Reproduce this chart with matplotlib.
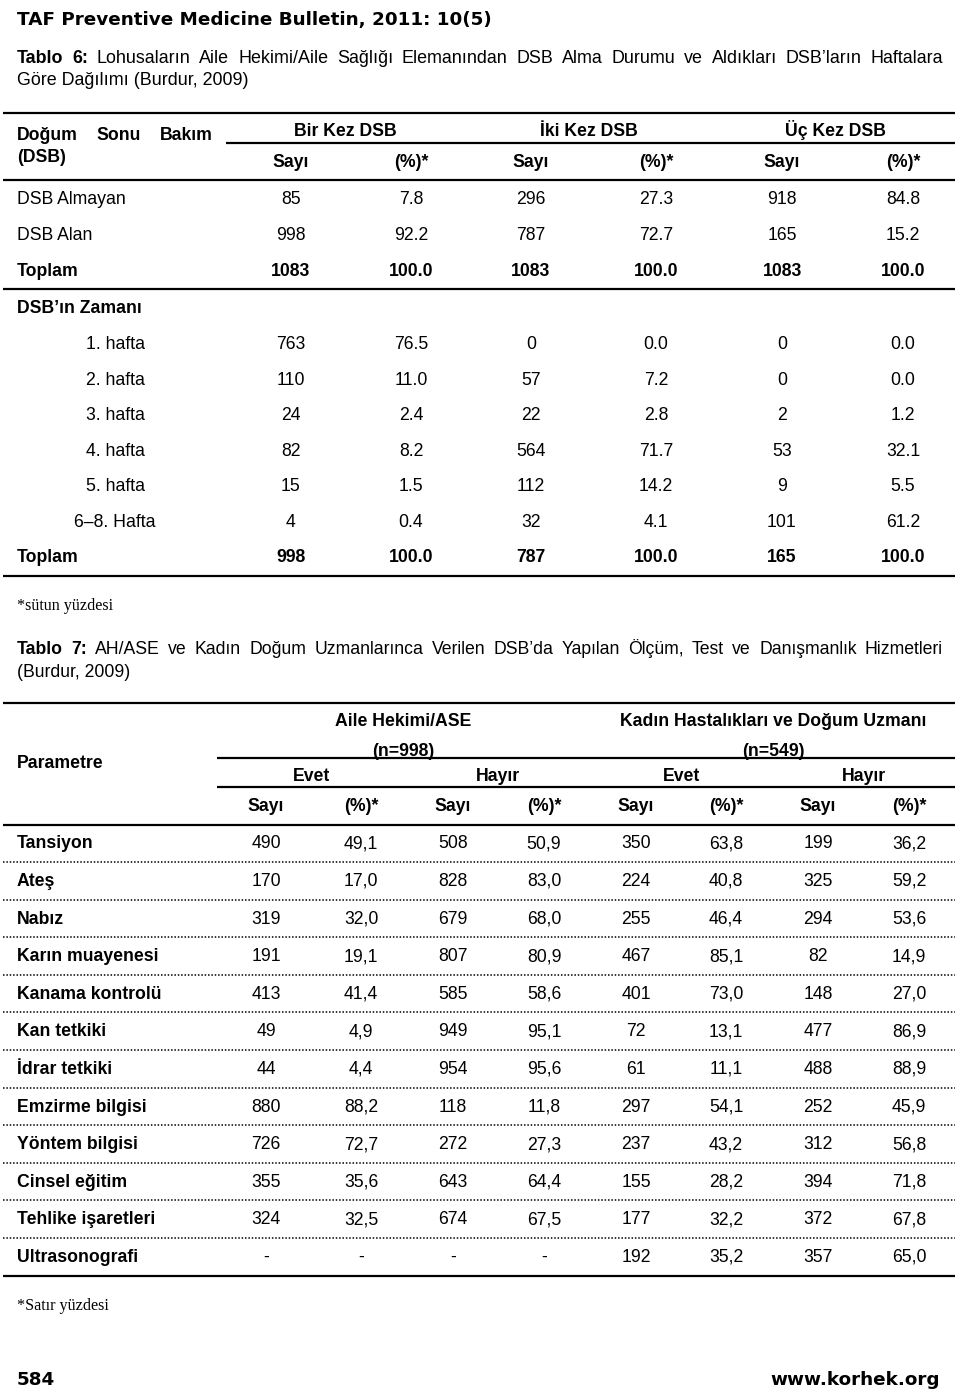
import matplotlib
matplotlib.use("Agg")
import matplotlib.pyplot as plt

# ---------------- data ----------------
journal_header = "TAF Preventive Medicine Bulletin, 2011: 10(5)"
t6_title_bold = ["Tablo", "6:"]
t6_title_line1 = "Lohusaların Aile Hekimi/Aile Sağlığı Elemanından DSB Alma Durumu ve Aldıkları DSB’ların Haftalara"
t6_title_line2 = "Göre Dağılımı (Burdur, 2009)"
t6_groups = ["Bir Kez DSB", "İki Kez DSB", "Üç Kez DSB"]
t6_sub = ["Sayı", "(%)*"]
t6_status_rows = ["DSB Almayan", "DSB Alan", "Toplam"]
t6_status_n = [[85, 296, 918], [998, 787, 165], [1083, 1083, 1083]]
t6_status_pct = [[7.8, 27.3, 84.8], [92.2, 72.7, 15.2], [100.0, 100.0, 100.0]]
t6_section = "DSB’ın Zamanı"
t6_week_rows = ["1. hafta", "2. hafta", "3. hafta", "4. hafta", "5. hafta", "6–8. Hafta", "Toplam"]
t6_week_n = [[763, 0, 0], [110, 57, 0], [24, 22, 2], [82, 564, 53], [15, 112, 9], [4, 32, 101], [998, 787, 165]]
t6_week_pct = [[76.5, 0.0, 0.0], [11.0, 7.2, 0.0], [2.4, 2.8, 1.2], [8.2, 71.7, 32.1],
               [1.5, 14.2, 5.5], [0.4, 4.1, 61.2], [100.0, 100.0, 100.0]]
t6_note = "*sütun yüzdesi"

t7_title_bold = ["Tablo", "7:"]
t7_title_line1 = "AH/ASE ve Kadın Doğum Uzmanlarınca Verilen DSB’da Yapılan Ölçüm, Test ve Danışmanlık Hizmetleri"
t7_title_line2 = "(Burdur, 2009)"
t7_groups = ["Aile Hekimi/ASE", "Kadın Hastalıkları ve Doğum Uzmanı"]
t7_group_n = ["(n=998)", "(n=549)"]
t7_answers = ["Evet", "Hayır"]
t7_sub = ["Sayı", "(%)*"]
t7_rows = ["Tansiyon", "Ateş", "Nabız", "Karın muayenesi", "Kanama kontrolü", "Kan tetkiki",
           "İdrar tetkiki", "Emzirme bilgisi", "Yöntem bilgisi", "Cinsel eğitim",
           "Tehlike işaretleri", "Ultrasonografi"]
# columns: AH evet n, AH hayir n, KD evet n, KD hayir n (and matching %)
t7_n = [[490, 508, 350, 199], [170, 828, 224, 325], [319, 679, 255, 294], [191, 807, 467, 82],
        [413, 585, 401, 148], [49, 949, 72, 477], [44, 954, 61, 488], [880, 118, 297, 252],
        [726, 272, 237, 312], [355, 643, 155, 394], [324, 674, 177, 372], [None, None, 192, 357]]
t7_pct = [[49.1, 50.9, 63.8, 36.2], [17.0, 83.0, 40.8, 59.2], [32.0, 68.0, 46.4, 53.6],
          [19.1, 80.9, 85.1, 14.9], [41.4, 58.6, 73.0, 27.0], [4.9, 95.1, 13.1, 86.9],
          [4.4, 95.6, 11.1, 88.9], [88.2, 11.8, 54.1, 45.9], [72.7, 27.3, 43.2, 56.8],
          [35.6, 64.4, 28.2, 71.8], [32.5, 67.5, 32.2, 67.8], [None, None, 35.2, 65.0]]
t7_note = "*Satır yüzdesi"
page_no = "584"
site = "www.korhek.org"

# ---------------- figure ----------------
W, H = 960, 1389
fig = plt.figure(figsize=(W / 100, H / 100), dpi=100)
ax = fig.add_axes([0, 0, 1, 1])
ax.set_xlim(0, W)
ax.set_ylim(H, 0)
ax.axis("off")
renderer = fig.canvas.get_renderer()

SANS = ["Liberation Sans", "DejaVu Sans"]
NARROW = ["Liberation Sans Narrow", "Liberation Sans", "DejaVu Sans"]
SERIF = ["Liberation Serif", "DejaVu Serif"]
HEAD = ["DejaVu Sans"]
FS = 12.7
CAP = {"Liberation Sans": 0.716, "Liberation Serif": 0.662, "DejaVu Sans": 0.729}


def txt(x, y, s, ha="center", fw="normal", fs=FS, fam=SANS):
    # y = vertical centre of capital letters; text placed on its baseline
    off = next((CAP[f] for f in fam if f in CAP), 0.72)
    yb = y + off * fs * 100 / 72 / 2
    return ax.text(x, yb, s, ha=ha, va="baseline", fontsize=fs, fontweight=fw,
                   family=fam, color="black")


def hline(y, x0, x1, lw=1.6, ls="-"):
    ax.plot([x0, x1], [y, y], color="black", lw=lw, ls=ls, solid_capstyle="butt")


def justify(pieces, x0, x1, y, fs=FS, fam=SANS):
    objs = [txt(0, y, w, ha="left", fw=fw, fs=fs, fam=fam) for w, fw in pieces]
    widths = [o.get_window_extent(renderer).width for o in objs]
    gap = (x1 - x0 - sum(widths)) / (len(objs) - 1)
    x = x0
    for o, w in zip(objs, widths):
        o.set_x(x)
        x += w + gap


def f1(v, comma=False):
    if v is None:
        return "-"
    s = f"{v:.1f}"
    return s.replace(".", ",") if comma else s


# header
txt(17, 18, journal_header, ha="left", fw="bold", fs=13.2, fam=HEAD)

# table 6 title
justify([(w, "bold") for w in t6_title_bold] + [(w, "normal") for w in t6_title_line1.split()],
        17, 943, 57, fs=12.9)
txt(17, 79, t6_title_line2, ha="left", fs=12.9)

# table 6 header
L, R = 3, 955
hline(113, L, R)
justify([("Doğum", "bold"), ("Sonu", "bold"), ("Bakım", "bold")], 17, 213, 134)
txt(17, 156, "(DSB)", ha="left", fw="bold")
g_cent = [345, 589, 835]
col_n = [291, 531, 782]
col_p = [411, 656, 903]
for g, gc, cn, cp in zip(t6_groups, g_cent, col_n, col_p):
    txt(gc, 130, g, fw="bold")
    txt(cn, 161, t6_sub[0], fw="bold")
    txt(cp, 161, t6_sub[1], fw="bold")
hline(143, 226, R)
hline(180, L, R)

ys = [198, 234, 270]
for lab, ns, ps, y in zip(t6_status_rows, t6_status_n, t6_status_pct, ys):
    bold = lab == "Toplam"
    txt(17, y, lab, ha="left", fw="bold" if bold else "normal")
    for cn, cp, n, p in zip(col_n, col_p, ns, ps):
        txt(cn, y, str(n), fw="bold" if bold else "normal")
        txt(cp, y, f1(p), fw="bold" if bold else "normal")
hline(289, L, R)

txt(17, 307, t6_section, ha="left", fw="bold")
ys = [343, 379, 414, 450, 485, 521, 556]
for lab, ns, ps, y in zip(t6_week_rows, t6_week_n, t6_week_pct, ys):
    bold = lab == "Toplam"
    if bold:
        txt(17, y, lab, ha="left", fw="bold")
    else:
        txt(115, y, lab)
    for cn, cp, n, p in zip(col_n, col_p, ns, ps):
        txt(cn, y, str(n), fw="bold" if bold else "normal")
        txt(cp, y, f1(p), fw="bold" if bold else "normal")
hline(576, L, R)
txt(17, 605, t6_note, ha="left", fs=11.6, fam=SERIF)

# table 7 title
justify([(w, "bold") for w in t7_title_bold] + [(w, "normal") for w in t7_title_line1.split()],
        17, 943, 648, fs=12.7, fam=NARROW)
txt(17, 671, t7_title_line2, ha="left", fs=12.7, fam=NARROW)

# table 7 header
hline(703, L, R)
txt(17, 762, "Parametre", ha="left", fw="bold")
grp_c = [403, 773]
for g, n, c in zip(t7_groups, t7_group_n, grp_c):
    txt(c, 720, g, fw="bold")
    txt(c, 750, n, fw="bold")
hline(758, 217, R)
ans_c = [312, 498, 682, 864]
for i, c in enumerate(ans_c):
    txt(c, 775, t7_answers[i % 2], fw="bold")
hline(787, 217, R)
c7_n = [266, 453, 636, 818]
c7_p = [361, 544, 726, 909]
for cn, cp in zip(c7_n, c7_p):
    txt(cn, 805, t7_sub[0], fw="bold")
    txt(cp, 805, t7_sub[1], fw="bold")
hline(825, L, R)

y0, dy = 842, 37.6
for i, (lab, ns, ps) in enumerate(zip(t7_rows, t7_n, t7_pct)):
    y = y0 + i * dy
    txt(17, y, lab, ha="left", fw="bold")
    for cn, cp, n, p in zip(c7_n, c7_p, ns, ps):
        txt(cn, y, "-" if n is None else str(n))
        txt(cp, y, f1(p, comma=True))
    if i < len(t7_rows) - 1:
        hline(y + 20, L, R, lw=1.1, ls=(0, (1, 1.2)))
hline(1276, L, R)
txt(17, 1305, t7_note, ha="left", fs=11.6, fam=SERIF)

# footer
txt(17, 1378, page_no, ha="left", fw="bold", fs=13.2, fam=HEAD)
txt(940, 1378, site, ha="right", fw="bold", fs=13.2, fam=HEAD)

fig.savefig("out.png", dpi=100)
